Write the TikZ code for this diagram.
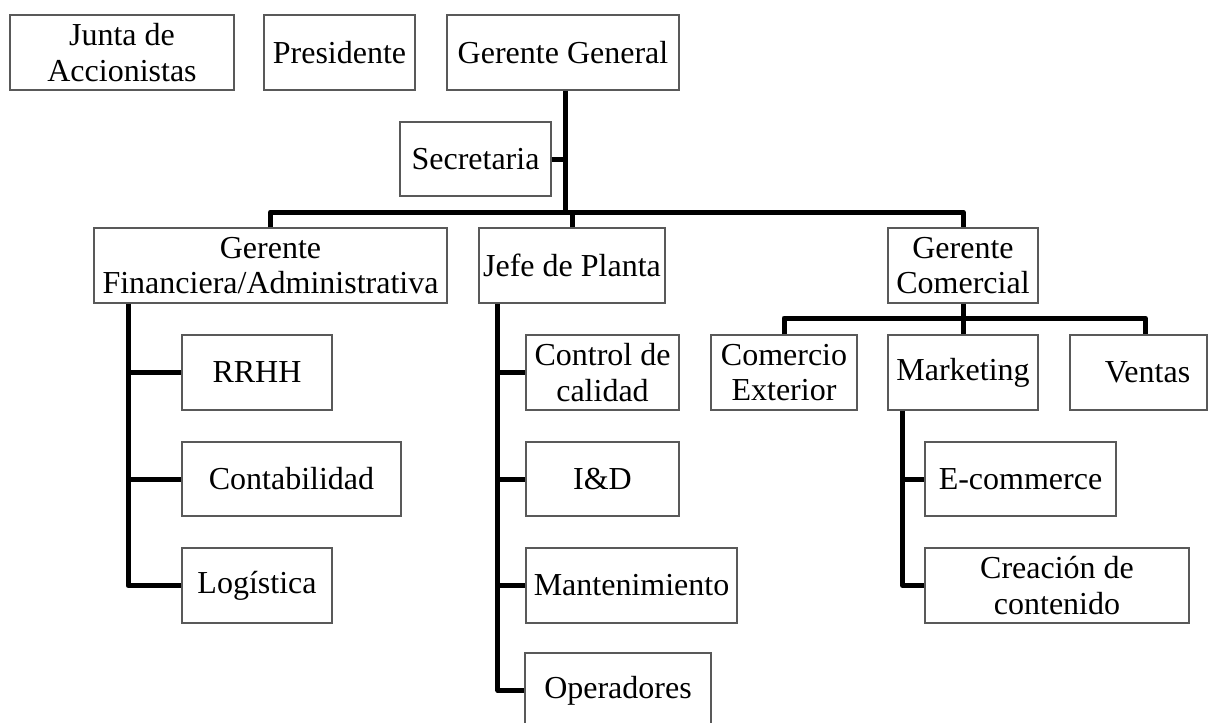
\documentclass[tikz,border=0pt]{standalone}
\usepackage{fontspec}
\setmainfont{Liberation Serif}
\begin{document}
\begin{tikzpicture}[x=0.75pt,y=-0.75pt,
  box/.style={draw=black!65, line width=0.8pt, fill=white, inner sep=0pt, align=center,
    font=\fontsize{24}{26.5}\selectfont},
  conn/.style={line width=3.75pt, line join=round, line cap=butt}]
\newcommand\bx[6]{\node[box, minimum width={(#4-#2)*0.75pt}, minimum height={(#5-#3)*0.75pt}] (#1) at ({(#2+#4)/2},{(#3+#5)/2}) {#6};}
\useasboundingbox (0,0) rectangle (1209,722);
% top row
\bx{junta}{10}{15}{234}{90}{Junta de\\Accionistas}
\bx{pres}{264}{15}{415}{90}{Presidente}
\bx{gg}{447}{15}{679}{90}{Gerente General}
\bx{sec}{400}{122}{551}{196}{Secretaria}
% second level
\bx{gf}{94}{228}{447}{303}{Gerente\\Financiera/Administrativa}
\bx{jefe}{479}{228}{665}{303}{Jefe de Planta}
\bx{gc}{888}{228}{1038}{303}{Gerente\\Comercial}
% finance
\bx{rrhh}{182}{335}{332}{410}{RRHH}
\bx{conta}{182}{442}{401}{516}{Contabilidad}
\bx{log}{182}{548}{332}{623}{Logística}
% plant
\bx{cc}{526}{335}{679}{410}{Control de\\calidad}
\bx{id}{526}{442}{679}{516}{I\&D}
\bx{mant}{526}{548}{737}{623}{Mantenimiento}
\bx{oper}{525}{653}{711}{728}{Operadores}
% commercial
\bx{ce}{711}{335}{857}{410}{Comercio\\Exterior}
\bx{mkt}{888}{335}{1038}{410}{Marketing}
\bx{ventas}{1070}{335}{1207}{410}{\hspace*{13.5pt}Ventas}
\bx{ecom}{925}{442}{1116}{516}{E-commerce}
\bx{crea}{925}{548}{1189}{623}{Creación de\\contenido}
% connectors
\coordinate (busy) at (0,212);
\coordinate (suby) at (0,318);
\coordinate (trunk) at ([xshift=2pt]gg.south);
\draw[conn] (trunk) -- (trunk |- busy);
\draw[conn] (sec.east) -- (sec.east -| trunk);
\draw[conn] (gf.north) -- (gf.north |- busy) -- (gc.north |- busy) -- (gc.north);
\draw[conn] (jefe.north) -- (jefe.north |- busy);
\coordinate (gfv) at ([xshift=25.9pt]gf.south west);
\draw[conn] (gfv) |- (log.west);
\draw[conn] (gfv |- rrhh.west) -- (rrhh.west);
\draw[conn] (gfv |- conta.west) -- (conta.west);
\coordinate (jv) at ([xshift=14.6pt]jefe.south west);
\draw[conn] (jv) |- (oper.west);
\draw[conn] (jv |- cc.west) -- (cc.west);
\draw[conn] (jv |- id.west) -- (id.west);
\draw[conn] (jv |- mant.west) -- (mant.west);
\draw[conn] (gc.south) -- (gc.south |- suby);
\coordinate (vdrop) at ([xshift=5pt]ventas.north);
\draw[conn] (ce.north) -- (ce.north |- suby) -- (vdrop |- suby) -- (vdrop);
\draw[conn] (mkt.north) -- (mkt.north |- suby);
\coordinate (mv) at ([xshift=11.25pt]mkt.south west);
\draw[conn] (mv) |- (crea.west);
\draw[conn] (mv |- ecom.west) -- (ecom.west);
\end{tikzpicture}
\end{document}
